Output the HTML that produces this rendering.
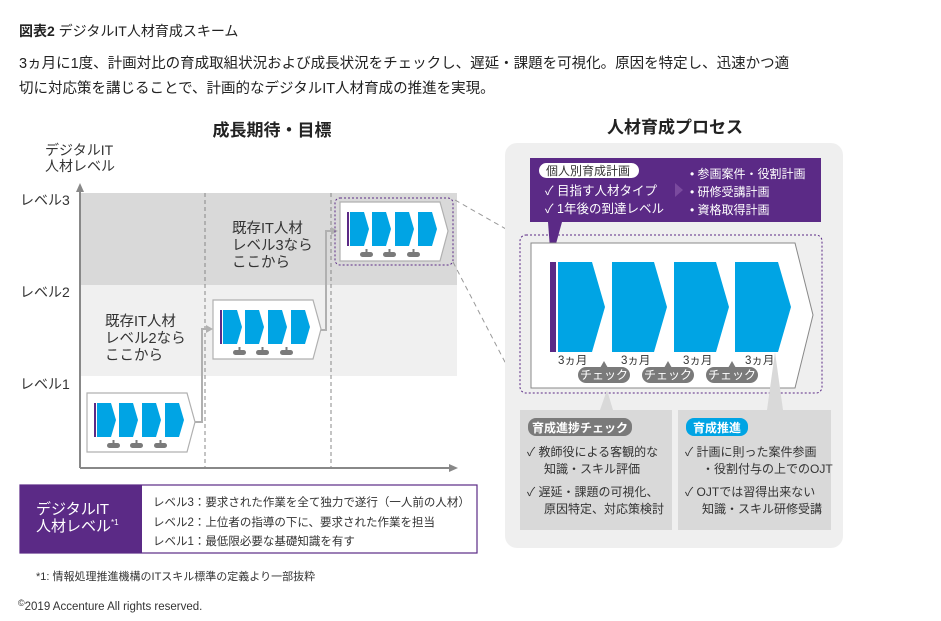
<!DOCTYPE html>
<html><head><meta charset="utf-8"><style>
body{margin:0;background:#fff;width:941px;height:621px;overflow:hidden}
svg{display:block;font-family:"Liberation Sans","Noto Sans CJK JP",sans-serif}
</style></head><body>
<svg width="941" height="621" viewBox="0 0 941 621" xmlns="http://www.w3.org/2000/svg">
<defs>
<g id="mini">
<polygon points="0,0 100,0 108,29 100,59 0,59" fill="#fff" stroke="#b0b0b0" stroke-width="1.2"/>
<rect x="7" y="10" width="2" height="34" fill="#5b2a86"/>
<polygon points="10,10 24,10 29,27 24,44 10,44" fill="#00a4e4"/>
<polygon points="32,10 46,10 51,27 46,44 32,44" fill="#00a4e4"/>
<polygon points="55,10 69,10 74,27 69,44 55,44" fill="#00a4e4"/>
<polygon points="78,10 92,10 97,27 92,44 78,44" fill="#00a4e4"/>
<rect x="20" y="50" width="13" height="5" rx="2.5" fill="#7a7a7a"/><rect x="25.5" y="47" width="2" height="4" fill="#7a7a7a"/>
<rect x="43" y="50" width="13" height="5" rx="2.5" fill="#7a7a7a"/><rect x="48.5" y="47" width="2" height="4" fill="#7a7a7a"/>
<rect x="67" y="50" width="13" height="5" rx="2.5" fill="#7a7a7a"/><rect x="72.5" y="47" width="2" height="4" fill="#7a7a7a"/>
</g>
</defs>
<text x="19" y="36" font-size="14" fill="#222"><tspan font-weight="bold">図表2</tspan> デジタルIT人材育成スキーム</text>
<text x="19" y="68" font-size="14.5" fill="#222">3ヵ月に1度、計画対比の育成取組状況および成長状況をチェックし、遅延・課題を可視化。原因を特定し、迅速かつ適</text>
<text x="19" y="93" font-size="14.5" fill="#222">切に対応策を講じることで、計画的なデジタルIT人材育成の推進を実現。</text>

<text x="272" y="136" font-size="17" font-weight="bold" text-anchor="middle" fill="#222">成長期待・目標</text>
<text x="45" y="155" font-size="14" fill="#333">デジタルIT</text>
<text x="45" y="171" font-size="14" fill="#333">人材レベル</text>

<rect x="80" y="193" width="377" height="92" fill="#d9d9d9"/>
<rect x="80" y="285" width="377" height="91" fill="#f0f0f0"/>
<line x1="205" y1="193" x2="205" y2="467" stroke="#888" stroke-dasharray="4,3"/>
<line x1="331" y1="193" x2="331" y2="467" stroke="#888" stroke-dasharray="4,3"/>
<line x1="80" y1="468" x2="452" y2="468" stroke="#888" stroke-width="2"/>
<polygon points="458,468 449,464 449,472" fill="#888"/>
<line x1="80" y1="468" x2="80" y2="190" stroke="#888" stroke-width="2"/>
<polygon points="80,183 76,192 84,192" fill="#888"/>
<text x="20" y="205" font-size="14" fill="#333">レベル3</text>
<text x="20" y="297" font-size="14" fill="#333">レベル2</text>
<text x="20" y="389" font-size="14" fill="#333">レベル1</text>
<text x="105" y="326" font-size="14.5" fill="#333">既存IT人材</text>
<text x="105" y="343" font-size="14.5" fill="#333">レベル2なら</text>
<text x="105" y="360" font-size="14.5" fill="#333">ここから</text>
<text x="232" y="233" font-size="14.5" fill="#333">既存IT人材</text>
<text x="232" y="250" font-size="14.5" fill="#333">レベル3なら</text>
<text x="232" y="267" font-size="14.5" fill="#333">ここから</text>

<polyline points="195,422 202,422 202,329 208,329" fill="none" stroke="#b0b0b0" stroke-width="2"/>
<polygon points="213,329 206,325 206,333" fill="#b0b0b0"/>
<polyline points="320,330 326,330 326,231 333,231" fill="none" stroke="#b0b0b0" stroke-width="2"/>
<polygon points="338,231 331,227 331,235" fill="#b0b0b0"/>
<use href="#mini" x="87" y="393"/>
<use href="#mini" x="213" y="300"/>
<use href="#mini" x="340" y="202"/>
<rect x="335" y="198" width="118" height="67" rx="5" fill="none" stroke="#5b2a86" stroke-dasharray="2,2"/>
<line x1="455" y1="200" x2="520" y2="237" stroke="#999" stroke-dasharray="5,4"/>
<line x1="453" y1="262" x2="520" y2="391" stroke="#999" stroke-dasharray="5,4"/>

<rect x="20" y="485" width="457" height="68" fill="#fff" stroke="#5b2a86" stroke-width="1.2"/>
<rect x="20" y="485" width="122" height="68" fill="#5b2a86"/>
<text x="36" y="514" font-size="15" fill="#fff">デジタルIT</text>
<text x="36" y="531" font-size="15" fill="#fff">人材レベル<tspan font-size="8" dy="-6">*1</tspan></text>
<text x="153" y="506" font-size="11.5" fill="#333">レベル3：要求された作業を全て独力で遂行（一人前の人材）</text>
<text x="153" y="526" font-size="11.5" fill="#333">レベル2：上位者の指導の下に、要求された作業を担当</text>
<text x="153" y="545" font-size="11.5" fill="#333">レベル1：最低限必要な基礎知識を有す</text>
<text x="36" y="580" font-size="11" fill="#333">*1: 情報処理推進機構のITスキル標準の定義より一部抜粋</text>
<text x="18" y="610" font-size="11.5" fill="#333"><tspan font-size="9" dy="-4">©</tspan><tspan dy="4">2019 Accenture All rights reserved.</tspan></text>

<text x="675" y="133" font-size="17" font-weight="bold" text-anchor="middle" fill="#222">人材育成プロセス</text>
<rect x="505" y="143" width="338" height="405" rx="12" fill="#efefef"/>
<rect x="530" y="158" width="291" height="64" fill="#5b2a86"/>
<rect x="539" y="163" width="100" height="15" rx="7.5" fill="#fff"/>
<text x="546" y="175" font-size="12" fill="#333">個人別育成計画</text>
<text x="545" y="195" font-size="12.5" fill="#fff">✓ 目指す人材タイプ</text>
<text x="545" y="213" font-size="12.5" fill="#fff">✓ 1年後の到達レベル</text>
<polygon points="675,183 683,190 675,197" fill="#7a4a9e"/>
<text x="690" y="178" font-size="12" fill="#fff">• 参画案件・役割計画</text>
<text x="690" y="196" font-size="12" fill="#fff">• 研修受講計画</text>
<text x="690" y="214" font-size="12" fill="#fff">• 資格取得計画</text>
<polygon points="548,222 562,222 551,262" fill="#5b2a86"/>

<rect x="520" y="235" width="302" height="158" rx="6" fill="none" stroke="#5b2a86" stroke-dasharray="2,2"/>
<polygon points="531,243 795,243 813,315 795,388 531,388" fill="#fff" stroke="#888"/>
<rect x="550" y="262" width="6" height="90" fill="#5b2a86"/>
<polygon points="558,262 592,262 605,307 592,352 558,352" fill="#00a4e4"/>
<polygon points="612,262 654,262 667,307 654,352 612,352" fill="#00a4e4"/>
<polygon points="674,262 716,262 729,307 716,352 674,352" fill="#00a4e4"/>
<polygon points="735,262 778,262 791,307 778,352 735,352" fill="#00a4e4"/>
<text x="558" y="364" font-size="11.5" fill="#333">3ヵ月</text>
<text x="621" y="364" font-size="11.5" fill="#333">3ヵ月</text>
<text x="683" y="364" font-size="11.5" fill="#333">3ヵ月</text>
<text x="745" y="364" font-size="11.5" fill="#333">3ヵ月</text>
<g fill="#7a7a7a">
<rect x="578" y="367" width="52" height="16" rx="8"/><polygon points="604,361 600,368 608,368"/>
<rect x="642" y="367" width="52" height="16" rx="8"/><polygon points="668,361 664,368 672,368"/>
<rect x="706" y="367" width="52" height="16" rx="8"/><polygon points="732,361 728,368 736,368"/>
</g>
<text x="604" y="379" font-size="12" fill="#fff" text-anchor="middle">チェック</text>
<text x="668" y="379" font-size="12" fill="#fff" text-anchor="middle">チェック</text>
<text x="732" y="379" font-size="12" fill="#fff" text-anchor="middle">チェック</text>

<polygon points="607,390 600,410 613,410" fill="#d9d9d9"/>
<polygon points="775,352 767,410 783,410" fill="#d9d9d9"/>
<rect x="520" y="410" width="152" height="120" fill="#d9d9d9"/>
<rect x="678" y="410" width="153" height="120" fill="#d9d9d9"/>
<rect x="528" y="418" width="104" height="18" rx="8" fill="#7a7a7a"/>
<text x="580" y="432" font-size="12" font-weight="bold" fill="#fff" text-anchor="middle">育成進捗チェック</text>
<rect x="686" y="418" width="62" height="18" rx="8" fill="#00a4e4"/>
<text x="717" y="432" font-size="12" font-weight="bold" fill="#fff" text-anchor="middle">育成推進</text>
<g font-size="12" fill="#333">
<text x="527" y="456">✓ 教師役による客観的な</text>
<text x="544" y="473">知識・スキル評価</text>
<text x="527" y="496">✓ 遅延・課題の可視化、</text>
<text x="544" y="513">原因特定、対応策検討</text>
<text x="685" y="456">✓ 計画に則った案件参画</text>
<text x="702" y="473">・役割付与の上でのOJT</text>
<text x="685" y="496">✓ OJTでは習得出来ない</text>
<text x="702" y="513">知識・スキル研修受講</text>
</g>
</svg>
</body></html>
